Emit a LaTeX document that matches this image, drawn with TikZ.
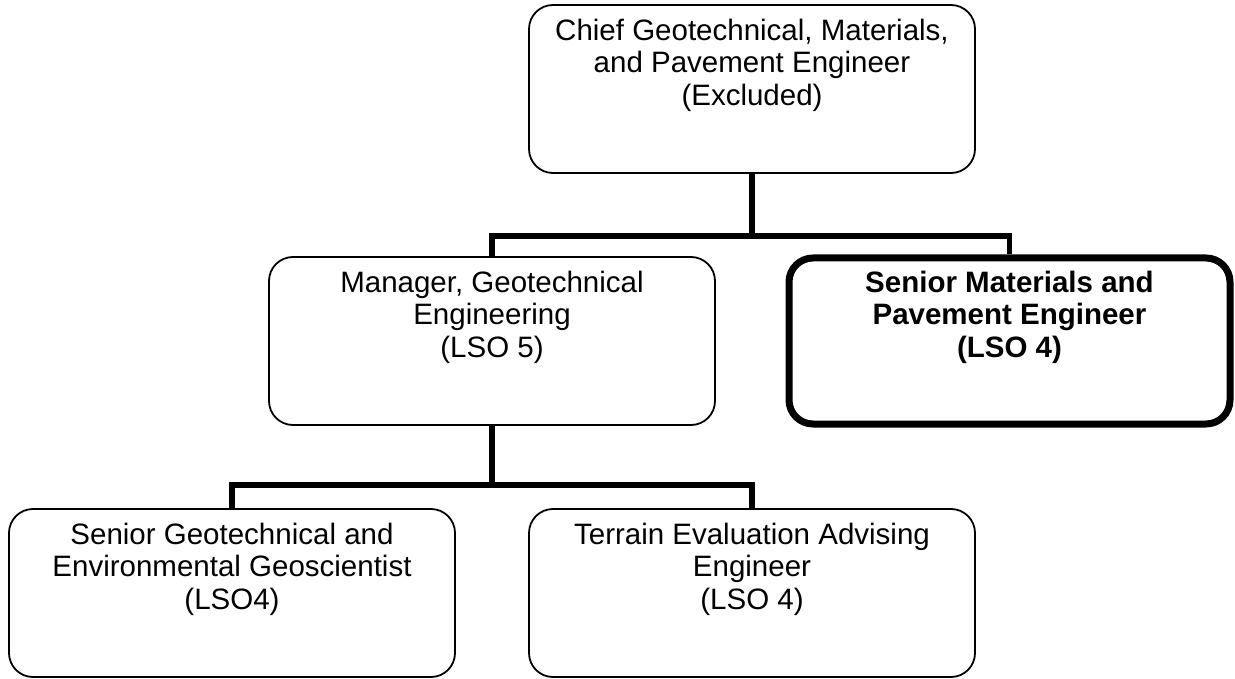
\documentclass[tikz,border=0pt]{standalone}
\usepackage{fontspec}
\setmainfont{Liberation Sans}
\begin{document}
\begin{tikzpicture}[x=1pt,y=-1pt,
  box/.style={draw=black, line width=1.8pt, rounded corners=24pt, minimum width=446pt, minimum height=168pt, inner sep=0pt, fill=white},
  thickbox/.style={box, line width=7pt, minimum width=441pt, minimum height=166pt},
  lbl/.style={anchor=north, align=center, inner sep=0pt, font=\fontsize{29.5pt}{32.2pt}\selectfont},
  conn/.style={draw=black, line width=5.5pt, line join=miter}]
\useasboundingbox[fill=white] (0,0) rectangle (1235,679);

\node[box] (top) at (752,89) {};
\node[box] (mgr) at (492,341) {};
\node[thickbox] (smp) at (1009.5,341) {};
\node[box] (sgg) at (232,593) {};
\node[box] (tea) at (752,593) {};

\node[lbl] (toptxt) at ([yshift=-15]top.north) {Chief Geotechnical, Materials,\\and Pavement Engineer\\(Excluded)};
\node[lbl] (mgrtxt) at ([yshift=-15]mgr.north) {Manager, Geotechnical\\Engineering\\(LSO 5)};
\node[lbl, font=\fontsize{29.5pt}{32.2pt}\selectfont\bfseries] (smptxt) at ([yshift=-15]mgr.north -| smp.north) {Senior Materials and\\Pavement Engineer\\(LSO 4)};
\node[lbl] (sggtxt) at ([yshift=-15]sgg.north) {Senior Geotechnical and\\Environmental Geoscientist\\(LSO4)};
\node[lbl] (teatxt) at ([yshift=-15]tea.north) {Terrain Evaluation Advising\\Engineer\\(LSO 4)};

\coordinate (j1) at (752,236);
\coordinate (j2) at (492,485);

\draw[conn] (top.south) -- (j1);
\draw[conn] (mgr.north) |- (j1) -| (smp.north);
\draw[conn] (mgr.south) -- (j2);
\draw[conn] (sgg.north) |- (j2) -| (tea.north);
\end{tikzpicture}
\end{document}
